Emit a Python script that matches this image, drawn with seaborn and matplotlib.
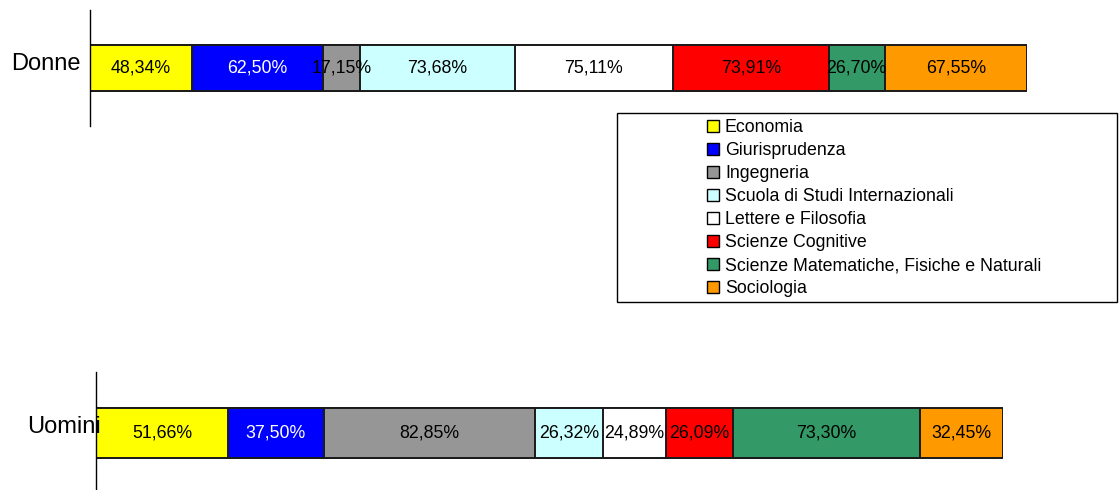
import numpy as np
import pandas as pd
import matplotlib
matplotlib.use('Agg')
import matplotlib.pyplot as plt
from matplotlib.patches import Patch, Rectangle
from matplotlib.transforms import ScaledTranslation
import seaborn as sns

facolta = ['Economia', 'Giurisprudenza', 'Ingegneria',
           'Scuola di Studi Internazionali', 'Lettere e Filosofia',
           'Scienze Cognitive', 'Scienze Matematiche, Fisiche e Naturali',
           'Sociologia']
donne = [48.34, 62.50, 17.15, 73.68, 75.11, 73.91, 26.70, 67.55]
uomini = [51.66, 37.50, 82.85, 26.32, 24.89, 26.09, 73.30, 32.45]
colori = ['#FFFF00', '#0000FF', '#969696', '#CCFFFF', '#FFFFFF',
          '#FF0000', '#339966', '#FF9900']

sns.set_style('white')
plt.rcParams['font.family'] = ['Liberation Sans', 'DejaVu Sans']

fig = plt.figure(figsize=(11.2, 4.9), dpi=100)
W, H = 1120, 490


def stacked(ax, label, values, bar_h, pad, lift):
    df = pd.DataFrame({'facolta': facolta, 'value': values})
    df['cum'] = df['value'].cumsum()
    df['gruppo'] = label
    # classic seaborn stacking: draw cumulative bars from the longest down
    for i in reversed(range(len(df))):
        sns.barplot(data=df.iloc[[i]], x='cum', y='gruppo', orient='h',
                    color=colori[i], saturation=1, width=bar_h,
                    edgecolor='#1a1a1a', linewidth=1.4, ax=ax)
    for i, row in df.iterrows():
        ax.text(row['cum'] - row['value'] / 2, 0, f"{row['value']:.2f}%".replace('.', ','),
                ha='center', va='center', fontsize=12.8,
                color='white' if colori[i] == '#0000FF' else 'black')
    ax.set_xlim(0, df['cum'].iloc[-1])
    ax.set_ylim(0.5, -0.5)
    ax.set_xlabel('')
    ax.set_ylabel('')
    ax.set_xticks([])
    ax.set_axisbelow(False)
    ax.tick_params(axis='y', length=0, pad=pad, labelsize=17, labelcolor='black')
    for t in ax.get_yticklabels():
        t.set_transform(t.get_transform() + ScaledTranslation(0, lift / 100, fig.dpi_scale_trans))
    for s in ['top', 'right', 'bottom']:
        ax.spines[s].set_visible(False)
    ax.spines['left'].set_color('black')
    ax.spines['left'].set_linewidth(1.0)


ax1 = fig.add_axes([90 / W, 1 - 126 / H, 937 / W, 116 / H])
stacked(ax1, 'Donne', donne, 0.40, 7, 7)

ax2 = fig.add_axes([96 / W, -4 / H, 907 / W, 122 / H])
stacked(ax2, 'Uomini', uomini, 0.41, -3.6, 9)

# legend box
fig.patches.append(Rectangle((617 / W, 1 - 302 / H), 500 / W, 189 / H,
                             transform=fig.transFigure, fill=False,
                             edgecolor='black', linewidth=1.0))
handles = [Patch(facecolor=c, edgecolor='black', linewidth=1.0) for c in colori]
fig.legend(handles, facolta, loc='upper left',
           bbox_to_anchor=(700 / W, 1 - 112 / H), frameon=False,
           fontsize=12.8, handlelength=0.65, handleheight=0.65,
           handletextpad=0.35, labelspacing=0.34, borderaxespad=0,
           labelcolor='black')

fig.savefig('out.png', dpi=100)
